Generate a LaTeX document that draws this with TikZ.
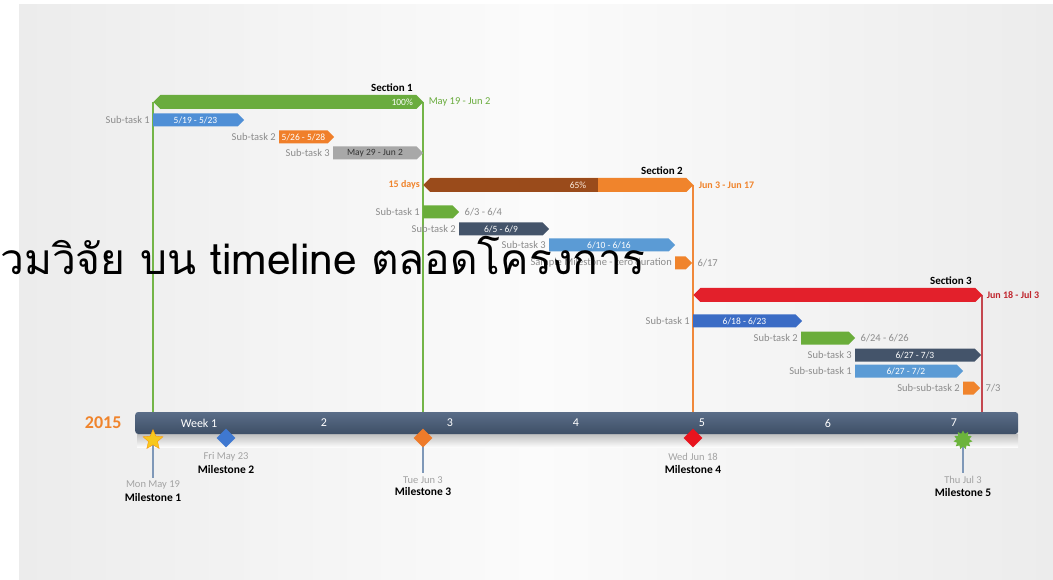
\documentclass[tikz,border=0pt]{standalone}
\usepackage{fontspec}
\setmainfont{Carlito}
\newfontfamily\thaifont[Script=Thai]{Loma}
\usetikzlibrary{positioning,shapes.symbols,shapes.geometric}

\definecolor{slideedge}{HTML}{ECECEC}
\definecolor{slidemid}{HTML}{FBFBFB}
\definecolor{labelgrey}{HTML}{8C8C8C}
\definecolor{secgreen}{HTML}{6AAC3E}
\definecolor{secbrown}{HTML}{9A4B1B}
\definecolor{secorange}{HTML}{F0842C}
\definecolor{secred}{HTML}{E3202B}
\definecolor{taskblue}{HTML}{4F8FD6}
\definecolor{taskorange}{HTML}{F07F2A}
\definecolor{taskgrey}{HTML}{A8A8A8}
\definecolor{taskgreen}{HTML}{6AAD3A}
\definecolor{taskslate}{HTML}{44546A}
\definecolor{tasklight}{HTML}{5B9BD5}
\definecolor{taskdeep}{HTML}{3B6CC5}
\definecolor{datered}{HTML}{C0262E}
\definecolor{axistop}{HTML}{5A6D88}
\definecolor{axisbot}{HTML}{3E4F66}
\definecolor{lineorange}{HTML}{F0883A}
\definecolor{linegreen}{HTML}{74B548}
\definecolor{linered}{HTML}{C4474F}
\definecolor{mslinecol}{HTML}{7F98B8}
\definecolor{msyellow}{HTML}{F7C81E}
\definecolor{msblue}{HTML}{3F78D0}
\definecolor{msorange}{HTML}{EE7B2A}
\definecolor{msred}{HTML}{E8141E}
\definecolor{msgreen}{HTML}{6CB43C}

\tikzset{
  bar/.style={signal, signal to=east, anchor=west, minimum height=13pt, inner sep=0pt,
    text=white, font=\fontsize{9.5}{10}\selectfont},
  secbar/.style={bar, signal to=west and east, minimum height=14pt},
  tasklabel/.style={text=labelgrey, font=\fontsize{10.5}{12}\selectfont, inner sep=0pt},
  sectitle/.style={font=\bfseries\fontsize{11}{12}\selectfont, inner sep=0pt},
  secdate/.style={font=\bfseries\fontsize{10}{12}\selectfont, inner sep=0pt},
  weeklabel/.style={text=white, font=\fontsize{12}{14}\selectfont},
  msdate/.style={text=labelgrey!80, font=\fontsize{10.5}{12}\selectfont, inner sep=0pt},
  msname/.style={font=\bfseries\fontsize{11.5}{13}\selectfont, inner sep=0pt},
  msline/.style={draw=mslinecol, line width=1.3pt, shorten >=3pt},
  secline/.style={line width=1.6pt},
}

\begin{document}
\begin{tikzpicture}[x=1pt,y=-1pt]
\useasboundingbox (0,0) rectangle (1053,580);
\shade[left color=slideedge, right color=slideedge, middle color=slidemid] (19,5) rectangle (1053,580);

% time axis first, so the section lines can end on it
\shade[top color=black!25, bottom color=slidemid] (137,434) rectangle (1018,447);
\node[rounded corners=3pt, top color=axistop, bottom color=axisbot, minimum width=883pt, minimum height=22pt,
  anchor=west, inner sep=0pt] (axis) at (135,423) {};
\node[text=secorange, font=\bfseries\fontsize{18}{20}\selectfont, left=10pt of axis] (year) {2015};
\node[weeklabel] (week1) at (199,423) {Week 1};
\foreach \w in {2,...,7}
	\node[weeklabel] (week\w) at (72+126*\w,423) {\w};

% section ends
\coordinate (sec1start) at (153,102);
\coordinate (sec1end) at (423,102);
\coordinate (sec2end) at (693,185);
\coordinate (sec3end) at (982,295);
\draw[secline, draw=linegreen] (sec1start) -- (sec1start |- axis.north);
\draw[secline, draw=linegreen] (sec1end) -- (sec1end |- axis.north);
\draw[secline, draw=lineorange] (sec2end) -- (sec2end |- axis.north);
\draw[secline, draw=linered] (sec3end) -- (sec3end |- axis.north);

% section 1
\node[sectitle, anchor=south east] (sec1title) at (413,92) {Section 1};
\node[secbar, fill=secgreen, minimum width=270pt] (sec1) at (sec1start) {};
\node[text=white, font=\fontsize{9.5}{10}\selectfont, anchor=east, inner sep=0pt] (sec1pct) at (413,102) {100\%};
\node[secdate, text=secgreen, font=\fontsize{10.5}{12}\selectfont, right=5pt of sec1] (sec1date) {May 19 - Jun 2};
\node[bar, fill=taskblue, minimum width=91pt] (s1a) at (153,120) {5/19 - 5/23};
\node[bar, fill=taskorange, minimum width=55pt] (s1b) at (279,137) {5/26 - 5/28};
\node[bar, fill=taskgrey, text=black!80, minimum width=90pt] (s1c) at (333,153) {May 29 - Jun 2};
\node[tasklabel, left=3pt of s1a] (s1alabel) {Sub-task 1};
\node[tasklabel, left=3pt of s1b] (s1blabel) {Sub-task 2};
\node[tasklabel, left=3pt of s1c] (s1clabel) {Sub-task 3};

% section 2
\node[sectitle, anchor=south east] (sec2title) at (683,175) {Section 2};
\node[secbar, fill=secorange, minimum width=270pt,
  path picture={\fill[secbrown] (path picture bounding box.south west) rectangle ([xshift=175pt]path picture bounding box.north west);}]
  (sec2) at (423,185) {};
\node[text=white!85!secorange, font=\fontsize{9.5}{10}\selectfont, inner sep=0pt] (sec2pct) at (578,185) {65\%};
\node[secdate, text=secorange, left=3pt of sec2] (sec2days) {15 days};
\node[secdate, text=secorange, right=5pt of sec2] (sec2date) {Jun 3 - Jun 17};
\node[bar, fill=taskgreen, minimum width=36pt] (s2a) at (423,212) {};
\node[bar, fill=taskslate, minimum width=90pt] (s2b) at (459,229) {6/5 - 6/9};
\node[bar, fill=tasklight, minimum width=126pt] (s2c) at (549,245) {6/10 - 6/16};
\node[bar, fill=secorange, minimum width=17pt] (s2d) at (675,263) {};
\node[tasklabel, left=3pt of s2a] (s2alabel) {Sub-task 1};
\node[tasklabel, left=3pt of s2b] (s2blabel) {Sub-task 2};
\node[tasklabel, left=3pt of s2c] (s2clabel) {Sub-task 3};
\node[tasklabel, left=3pt of s2d] (s2dlabel) {Sample Milestone - zero duration};
\node[tasklabel, right=5pt of s2a] (s2adate) {6/3 - 6/4};
\node[tasklabel, right=5pt of s2d] (s2ddate) {6/17};

% section 3
\node[sectitle, anchor=south east] (sec3title) at (972,285) {Section 3};
\node[secbar, fill=secred, minimum width=289pt] (sec3) at (693,295) {};
\node[secdate, text=datered, right=4pt of sec3] (sec3date) {Jun 18 - Jul 3};
\node[bar, fill=taskdeep, minimum width=109pt] (s3a) at (693,321) {6/18 - 6/23};
\node[bar, fill=taskgreen, minimum width=54pt] (s3b) at (801,338) {};
\node[bar, fill=taskslate, minimum width=126pt] (s3c) at (855,355) {6/27 - 7/3};
\node[bar, fill=tasklight, minimum width=108pt] (s3d) at (855,371) {6/27 - 7/2};
\node[bar, fill=secorange, minimum width=17pt] (s3e) at (963,388) {};
\node[tasklabel, left=3pt of s3a] (s3alabel) {Sub-task 1};
\node[tasklabel, left=3pt of s3b] (s3blabel) {Sub-task 2};
\node[tasklabel, left=3pt of s3c] (s3clabel) {Sub-task 3};
\node[tasklabel, left=3pt of s3d] (s3dlabel) {Sub-sub-task 1};
\node[tasklabel, left=3pt of s3e] (s3elabel) {Sub-sub-task 2};
\node[tasklabel, right=5pt of s3b] (s3bdate) {6/24 - 6/26};
\node[tasklabel, right=5pt of s3e] (s3edate) {7/3};

% milestones
\node[msdate] (ms1date) at (153,485) {Mon May 19};
\node[msname, below=4pt of ms1date] (ms1name) {Milestone 1};
\node[msdate] (ms2date) at (226,457) {Fri May 23};
\node[msname, below=4pt of ms2date] (ms2name) {Milestone 2};
\node[msdate] (ms3date) at (423,480) {Tue Jun 3};
\node[msname, below=4pt of ms3date] (ms3name) {Milestone 3};
\node[msdate] (ms4date) at (693,457) {Wed Jun 18};
\node[msname, below=4pt of ms4date] (ms4name) {Milestone 4};
\node[msdate] (ms5date) at (963,480) {Thu Jul 3};
\node[msname, below=4pt of ms5date] (ms5name) {Milestone 5};
\coordinate (ms1pos) at (153,440);
\coordinate (ms3pos) at (423,438);
\coordinate (ms5pos) at (963,440);
\draw[msline] (ms1pos) -- (ms1date);
\draw[msline] (ms3pos) -- (ms3date);
\draw[msline] (ms5pos) -- (ms5date);
\node[star, star points=5, star point ratio=2.2, fill=msyellow, draw=orange!70!msyellow, minimum size=21pt, inner sep=0pt] (ms1) at (ms1pos) {};
\node[diamond, fill=msblue, minimum size=19pt, inner sep=0pt] (ms2) at (226,438) {};
\node[diamond, fill=msorange, minimum size=19pt, inner sep=0pt] (ms3) at (ms3pos) {};
\node[diamond, fill=msred, minimum size=19pt, inner sep=0pt] (ms4) at (693,438) {};
\node[starburst, random starburst=0, starburst points=11, starburst point height=3pt, fill=msgreen,
  minimum width=19pt, minimum height=19pt, inner sep=0pt] (ms5) at (ms5pos) {};

\node[anchor=base west, inner sep=0pt, font=\thaifont\fontsize{42.5}{46}\selectfont] (thaititle) at (0,275) {วมวิจัย บน timeline ตลอดโครงการ};
\end{tikzpicture}
\end{document}
